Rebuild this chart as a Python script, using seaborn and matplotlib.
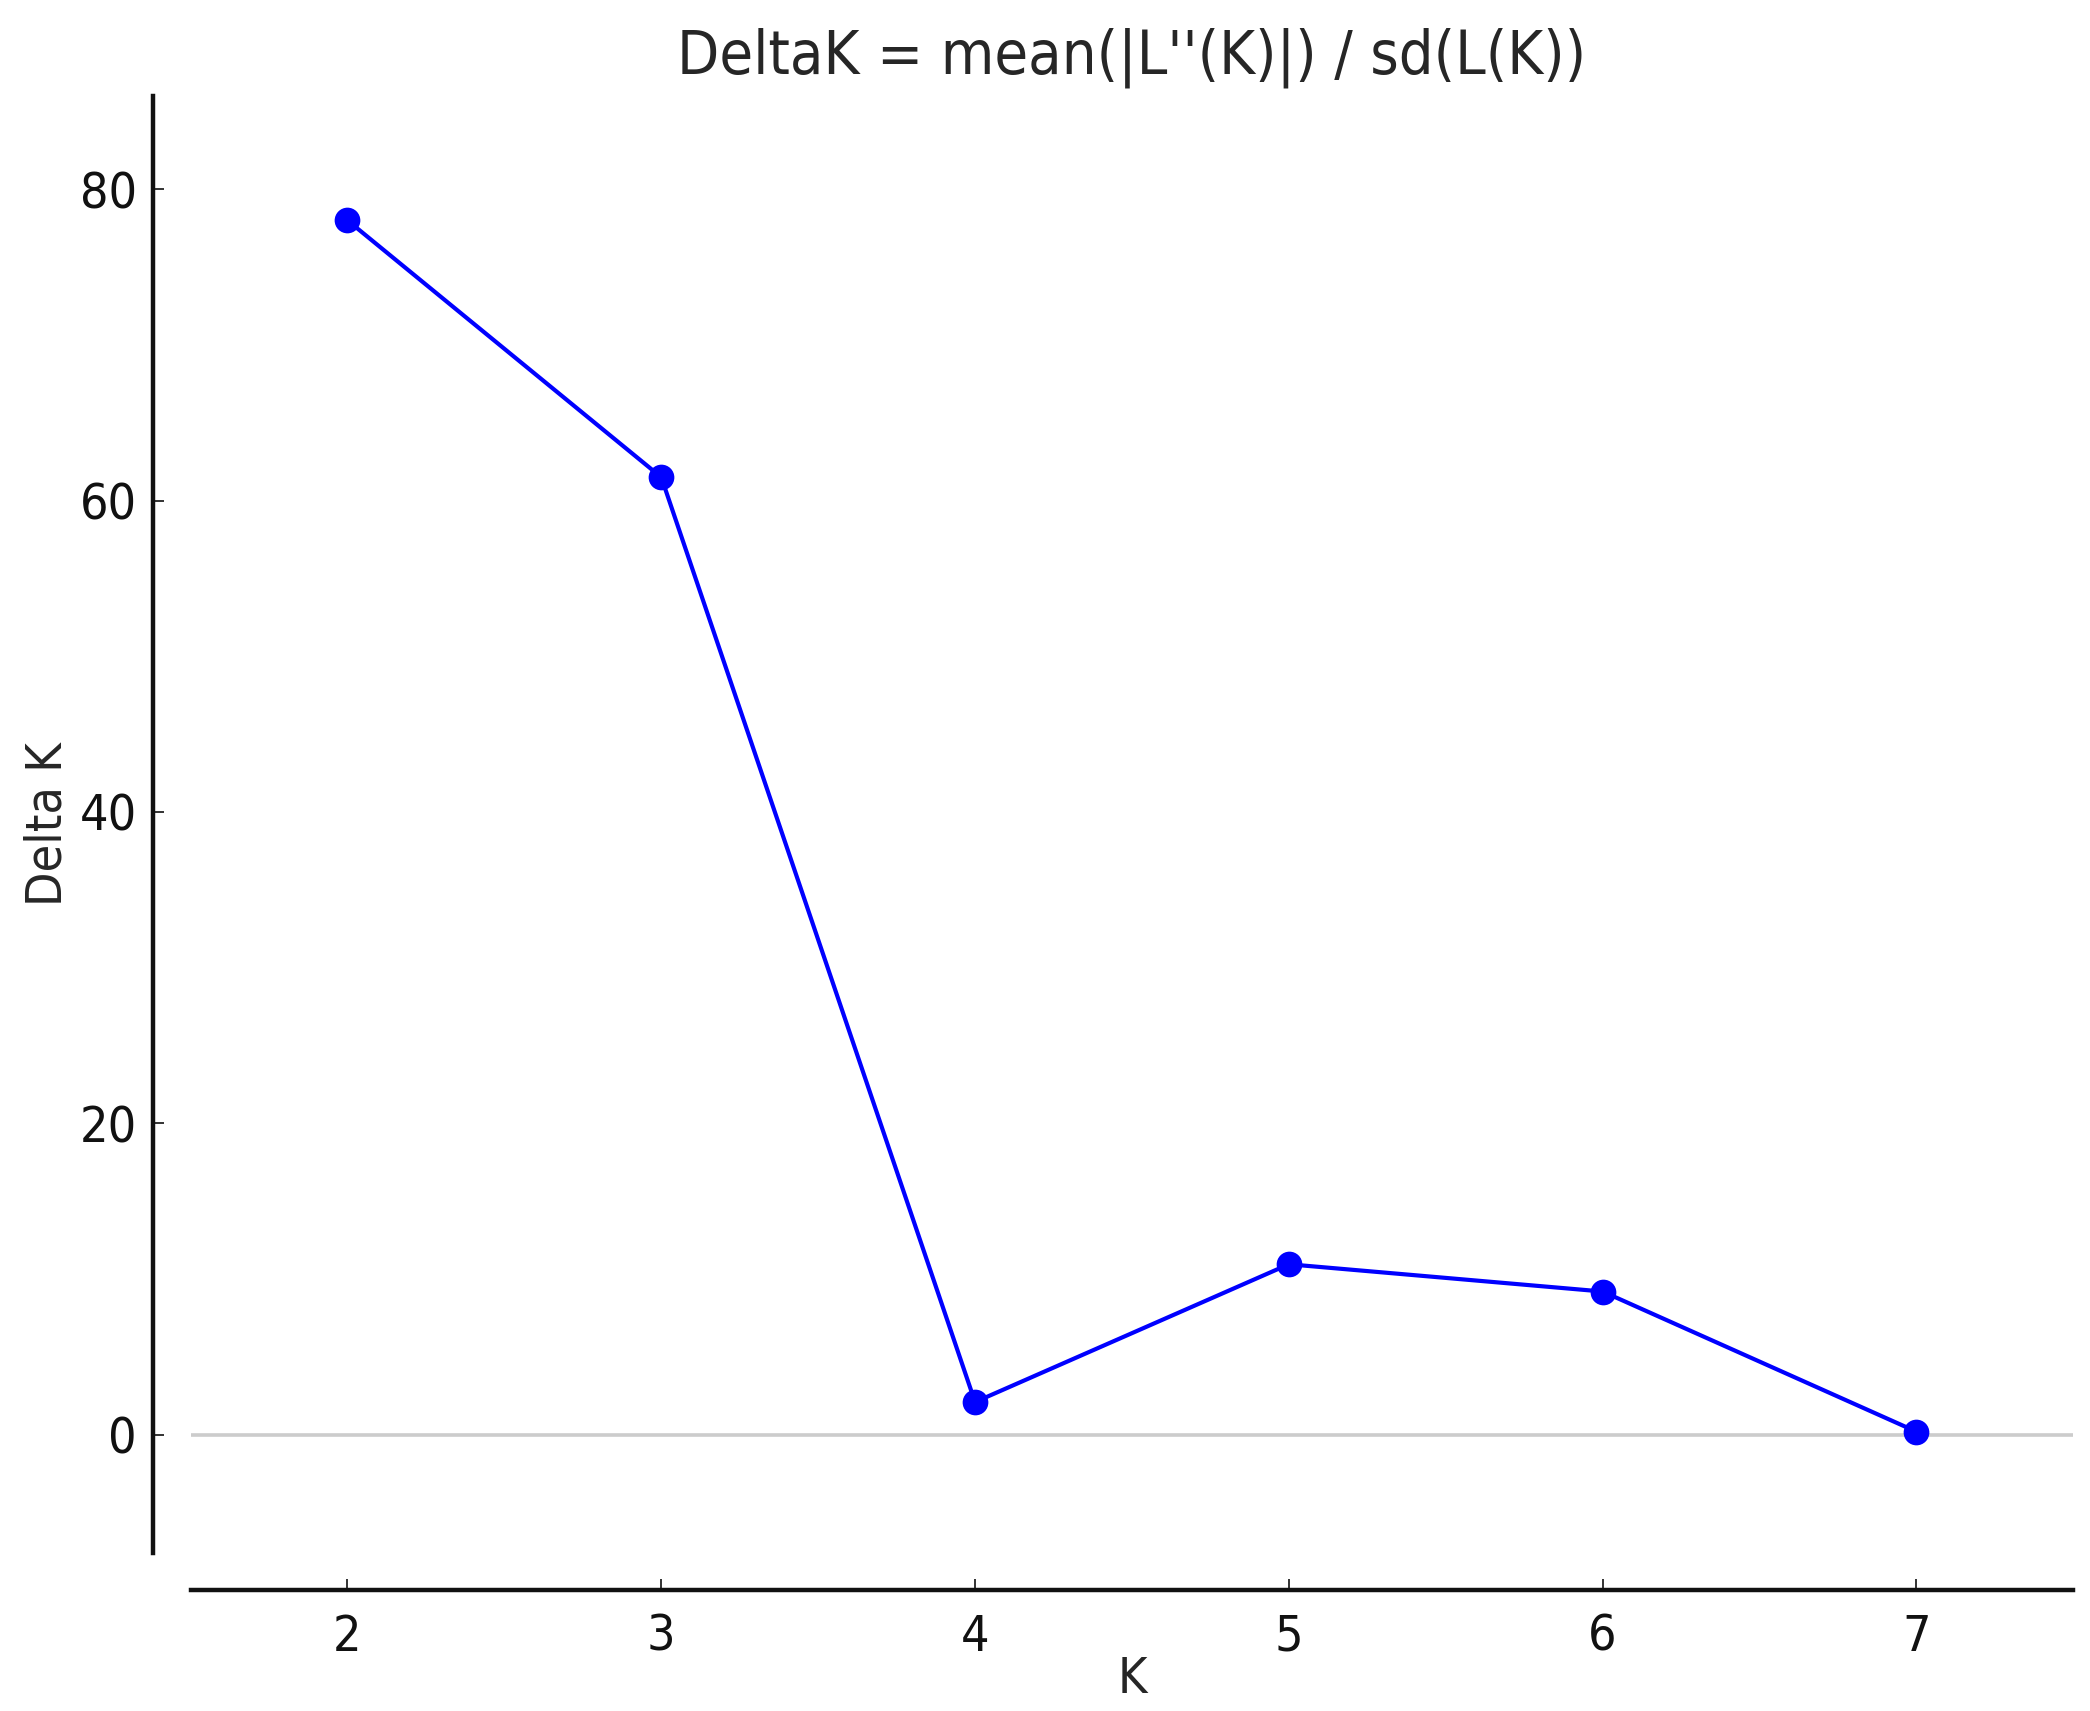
"""
DeltaK plot (Evanno method) redrawn with seaborn.
"""

import matplotlib
matplotlib.use("Agg")
import matplotlib.pyplot as plt
import pandas as pd
import seaborn as sns

# ─────────────────────────────────────────────
# DATA
# ─────────────────────────────────────────────
K_VALUES = [2, 3, 4, 5, 6, 7]
DELTA_K  = [78.0, 61.5, 2.1, 10.95, 9.2, 0.2]

Y_TICKS = [0, 20, 40, 60, 80]
X_TICKS = [2, 3, 4, 5, 6, 7]

TITLE  = "DeltaK = mean(|L''(K)|) / sd(L(K))"
XLABEL = "K"
YLABEL = "Delta K"

# ─────────────────────────────────────────────
# SETTINGS
# ─────────────────────────────────────────────
DPI       = 200
FIG_SIZE  = (2090 / DPI, 1711 / DPI)
BLUE      = "#0000ff"
FONT_SIZE = 18


def main():
    sns.set_style("ticks")
    plt.rcParams["font.family"] = ["DejaVu Sans"]
    plt.rcParams["font.stretch"] = "condensed"

    df = pd.DataFrame({"K": K_VALUES, "DeltaK": DELTA_K})

    fig = plt.figure(figsize=FIG_SIZE, dpi=DPI)
    ax = fig.add_axes([0.0912, 0.0923, 0.9008, 0.8517])

    # zero reference line
    ax.axhline(0, color="#cccccc", linewidth=1.3, zorder=1)

    sns.lineplot(
        data      = df,
        x         = "K",
        y         = "DeltaK",
        color     = BLUE,
        linewidth = 1.5,
        marker    = "o",
        markersize      = 8.5,
        markeredgecolor = BLUE,
        ax        = ax,
        zorder    = 3,
    )

    ax.set_xlim(1.5, 7.5)
    ax.set_ylim(-7.6, 86)
    ax.set_xticks(X_TICKS)
    ax.set_yticks(Y_TICKS)

    ax.set_title(TITLE, fontsize=22, pad=8)
    ax.set_xlabel(XLABEL, fontsize=FONT_SIZE, labelpad=-2)
    ax.set_ylabel(YLABEL, fontsize=FONT_SIZE, labelpad=3)

    ax.tick_params(axis="both", direction="in", length=4, width=0.6,
                   labelsize=FONT_SIZE, colors="#111111")
    ax.tick_params(axis="y", pad=6)
    ax.tick_params(axis="x", pad=8)

    for side in ["left", "bottom"]:
        ax.spines[side].set_linewidth(1.6)
        ax.spines[side].set_color("#111111")

    sns.despine(ax=ax, offset=13.4)

    fig.savefig("out.png", dpi=DPI)
    plt.close(fig)


if __name__ == "__main__":
    main()
